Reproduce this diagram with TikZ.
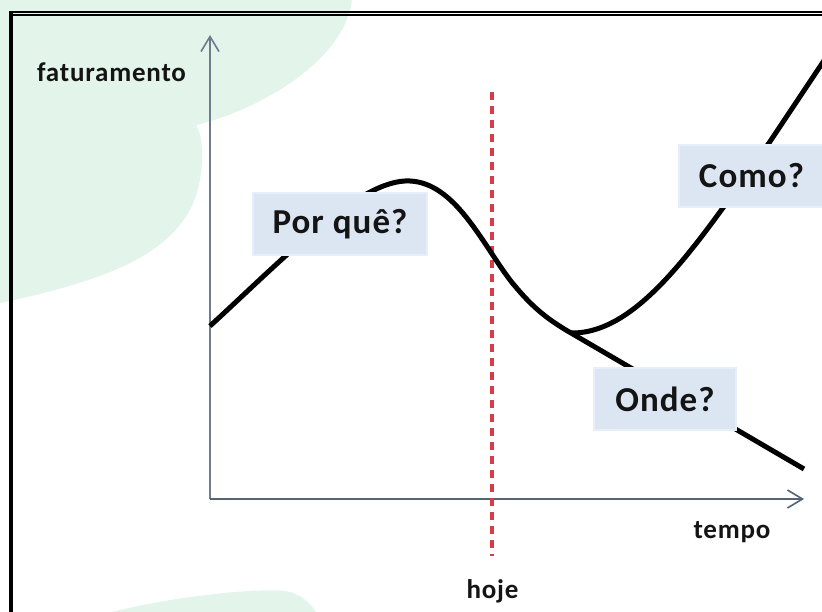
\documentclass[tikz,border=0pt]{standalone}
\usepackage{fontspec}
\setmainfont{Carlito}[LetterSpace=3]
\usetikzlibrary{arrows.meta}
\definecolor{blobgreen}{RGB}{227,244,234}
\definecolor{axisgray}{RGB}{84,99,118}
\definecolor{axislight}{RGB}{110,124,142}
\definecolor{hojered}{RGB}{216,60,70}
\definecolor{boxfill}{RGB}{220,230,242}
\definecolor{boxedge}{RGB}{232,238,247}
\definecolor{txt}{RGB}{20,20,20}
\tikzset{
  axisline/.style={draw=axisgray, line width=2.8pt,
    -{Straight Barb[length=15pt,width=18pt,line width=1.6pt]}},
  curveline/.style={draw=black, line width=5pt},
  qbox/.style={fill=boxfill, draw=boxedge, line width=1.2pt,
    minimum height=62pt, inner sep=0pt, text=txt,
    font=\fontsize{35}{42}\selectfont\bfseries},
  axlabel/.style={text=txt, inner sep=0pt, anchor=base,
    font=\fontsize{27}{32}\selectfont\bfseries},
}
\begin{document}
\begin{tikzpicture}[x=1pt,y=-1pt]
\useasboundingbox (0,0) rectangle (822,612);
\clip (0,0) rectangle (822,612);
% background blobs
\fill[blobgreen] (0,0) -- (352,0) .. controls (345,60) and (260,110) .. (196,125)
  .. controls (206,140) and (205,190) .. (185,218)
  .. controls (160,255) and (110,280) .. (0,303) -- cycle;
\fill[blobgreen] (112,612) .. controls (180,595) and (260,588) .. (285,591)
  .. controls (300,593) and (310,603) .. (316,612) -- cycle;
% frame
\fill[black] (9,11) rectangle (13,612);
\fill[black] (9,11) rectangle (822,12.8);
\fill[black] (13,14.2) rectangle (822,16);
% axes
\coordinate (O) at (210,499);
\coordinate (ytop) at (210,35);
\coordinate (xend) at (804,499);
\draw[axisline, draw=axislight, line width=2.2pt] (O) -- (ytop);
\draw[axisline] (O) -- (xend);
% today line
\coordinate (hojetop) at (492,92);
\coordinate (hojebot) at (492,556);
\draw[hojered, line width=4pt, dash pattern=on 8pt off 6pt] (hojetop) -- (hojebot);
% curves
\coordinate (start) at (210,326);
\coordinate (peak) at (410,181);
\coordinate (fall) at (510,280);
\coordinate (dip) at (571,333);
\coordinate (lowend) at (804,469);
\coordinate (rise) at (769,143);
\coordinate (highend) at (835,44);
\draw[curveline, line cap=butt] (start) .. controls (280,262) and (360,178) .. (peak)
  .. controls (455,183) and (482,243) .. (fall)
  .. controls (530,305) and (545,318) .. (dip) -- (lowend);
\draw[curveline] (dip) .. controls (640,334) and (700,240) .. (rise) -- (highend);
% boxes
\node[qbox, minimum width=174pt] (porque) at (340,224) {Por quê?};
\node[qbox, minimum width=145pt] (como) at (751.5,176) {Como?};
\node[qbox, minimum width=142pt] (onde) at (665,399) {Onde?};
% labels
\node[axlabel] (fat) at (111.5,82) {faturamento};
\node[axlabel] (tempo) at (732,538) {tempo};
\node[axlabel] (hoje) at (492.5,598) {hoje};
\end{tikzpicture}
\end{document}
